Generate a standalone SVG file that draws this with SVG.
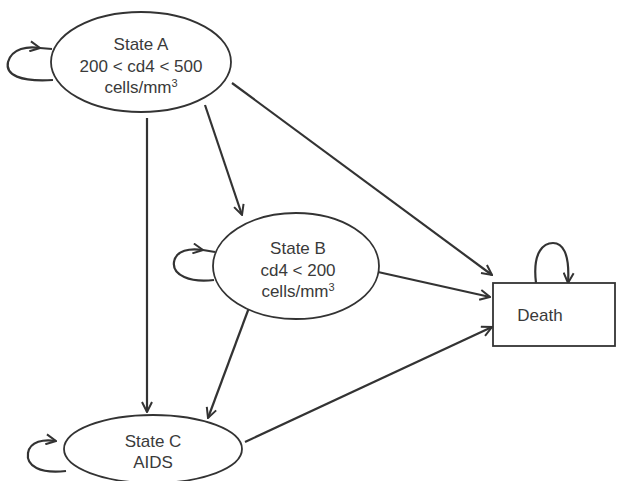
<svg xmlns="http://www.w3.org/2000/svg" width="618" height="481" viewBox="0 0 618 481">
<defs>
<style>
.n{fill:#fff;stroke:#333;stroke-width:1.8}
.t{font-family:"Liberation Sans",Arial,sans-serif;font-size:17px;fill:#3a3a3a;text-anchor:middle}
.c{fill:none;stroke:#333;stroke-width:2.2}
</style>
<marker id="ah" viewBox="0 0 12 12" refX="11" refY="6" markerWidth="12" markerHeight="12" markerUnits="userSpaceOnUse" orient="auto">
<path d="M1,1 L11,6 L1,11" fill="none" stroke="#333" stroke-width="2"/>
</marker>
</defs>
<rect width="618" height="481" fill="#fff"/>
<g id="connectors">
<line class="c" x1="147" y1="118" x2="147" y2="412" marker-end="url(#ah)"/>
<line class="c" x1="205" y1="105" x2="242" y2="215" marker-end="url(#ah)"/>
<line class="c" x1="232" y1="83" x2="492" y2="275" marker-end="url(#ah)"/>
<line class="c" x1="378" y1="272" x2="490" y2="297" marker-end="url(#ah)"/>
<line class="c" x1="250" y1="305" x2="208" y2="418" marker-end="url(#ah)"/>
<line class="c" x1="245" y1="442" x2="492" y2="327" marker-end="url(#ah)"/>
<path class="c" d="M53,80 C20,82 5,75 8,62 C12,48 28,46 40,48" marker-end="url(#ah)"/>
<path class="c" d="M214,280 C190,283 172,275 174,262 C176,250 190,248 203,250" marker-end="url(#ah)"/>
<path class="c" d="M66,471 C40,474 26,466 28,453 C30,441 44,439 56,441" marker-end="url(#ah)"/>
<path class="c" d="M536,283 C532,250 545,243 553,243 C562,243 570,252 568,283" marker-end="url(#ah)"/>
<line class="c" x1="40" y1="48" x2="52" y2="49"/>
<line class="c" x1="203" y1="250" x2="215" y2="252"/>
</g>
<g id="stateA">
<ellipse class="n" cx="141" cy="62" rx="90" ry="50"/>
<text class="t" x="141" y="50">State A</text>
<text class="t" x="141" y="72">200 &lt; cd4 &lt; 500</text>
<text class="t" x="141" y="93">cells/mm<tspan font-size="11" dy="-6">3</tspan></text>
</g>
<g id="stateB">
<ellipse class="n" cx="296" cy="266" rx="83" ry="53"/>
<text class="t" x="298" y="254">State B</text>
<text class="t" x="298" y="276">cd4 &lt; 200</text>
<text class="t" x="298" y="297">cells/mm<tspan font-size="11" dy="-6">3</tspan></text>
</g>
<g id="stateC">
<ellipse class="n" cx="153" cy="449" rx="89" ry="34"/>
<text class="t" x="153" y="447">State C</text>
<text class="t" x="153" y="468">AIDS</text>
</g>
<g id="death">
<rect class="n" x="493" y="283" width="122" height="63"/>
<text class="t" x="540" y="321">Death</text>
</g>
</svg>
